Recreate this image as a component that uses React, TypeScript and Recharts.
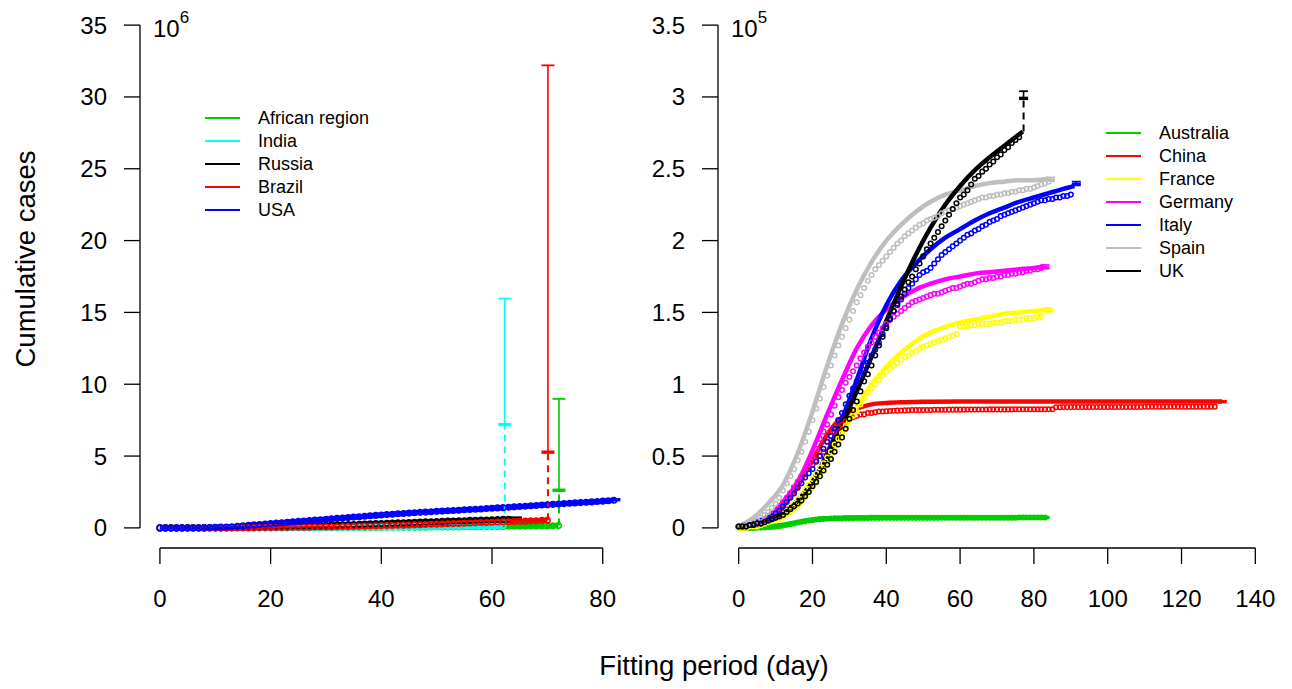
import React from 'react'
import { LineChart, Line, XAxis, YAxis, ReferenceLine, Legend } from 'recharts'

// ---- left panel: cumulative cases (x10^6), one value per day from day 0 ----
const africaObserved = [
  0, 0, 0, 0, 0, 0, 0, 0, 0, 0,
  0, 0, 0, 0, 0, 0, 0, 0, 0, 0.01,
  0.01, 0.01, 0.01, 0.01, 0.01, 0.01, 0.01, 0.01, 0.01, 0.02,
  0.02, 0.02, 0.02, 0.02, 0.02, 0.02, 0.03, 0.03, 0.03, 0.03,
  0.03, 0.04, 0.04, 0.04, 0.04, 0.05, 0.05, 0.05, 0.05, 0.06,
  0.06, 0.06, 0.07, 0.07, 0.07, 0.08, 0.08, 0.08, 0.09, 0.09,
  0.09, 0.1, 0.1, 0.11, 0.11, 0.12, 0.12, 0.13, 0.13, 0.14,
  0.14, 0.15, 0.16,
]
const indiaObserved = [
  0, 0, 0, 0, 0, 0, 0, 0, 0, 0,
  0, 0, 0, 0, 0, 0, 0, 0.01, 0.01, 0.01,
  0.01, 0.01, 0.01, 0.01, 0.01, 0.01, 0.02, 0.02, 0.02, 0.02,
  0.02, 0.02, 0.03, 0.03, 0.03, 0.03, 0.04, 0.04, 0.04, 0.04,
  0.05, 0.05, 0.05, 0.06, 0.06, 0.06, 0.07, 0.07, 0.08, 0.08,
  0.08, 0.09, 0.09, 0.1, 0.1, 0.11, 0.11, 0.12, 0.13, 0.13,
  0.14, 0.15, 0.16,
]
const russiaObserved = [
  0, 0, 0, 0, 0, 0, 0, 0, 0, 0.01,
  0.01, 0.01, 0.02, 0.02, 0.03, 0.03, 0.04, 0.05, 0.05, 0.06,
  0.07, 0.08, 0.09, 0.1, 0.11, 0.12, 0.13, 0.14, 0.15, 0.16,
  0.18, 0.19, 0.2, 0.21, 0.23, 0.24, 0.25, 0.27, 0.28, 0.3,
  0.31, 0.32, 0.34, 0.35, 0.36, 0.38, 0.39, 0.4, 0.42, 0.43,
  0.44, 0.45, 0.47, 0.48, 0.49, 0.5, 0.52, 0.53, 0.54, 0.55,
  0.57, 0.58, 0.59, 0.6,
]
const brazilObserved = [
  0, 0, 0, 0, 0, 0, 0, 0, 0, 0,
  0, 0, 0, 0.01, 0.01, 0.01, 0.01, 0.02, 0.02, 0.02,
  0.02, 0.03, 0.03, 0.03, 0.04, 0.04, 0.05, 0.05, 0.06, 0.06,
  0.07, 0.07, 0.08, 0.09, 0.09, 0.1, 0.11, 0.12, 0.13, 0.14,
  0.15, 0.16, 0.17, 0.18, 0.19, 0.2, 0.21, 0.22, 0.24, 0.25,
  0.26, 0.27, 0.29, 0.3, 0.31, 0.33, 0.34, 0.35, 0.37, 0.38,
  0.39, 0.41, 0.42, 0.43, 0.45, 0.46, 0.47, 0.49, 0.5, 0.52,
  0.53,
]
const usaObserved = [
  0, 0, 0, 0, 0, 0.01, 0.01, 0.01, 0.02, 0.03,
  0.04, 0.05, 0.06, 0.08, 0.11, 0.14, 0.18, 0.21, 0.24, 0.27,
  0.3, 0.33, 0.36, 0.39, 0.42, 0.45, 0.48, 0.51, 0.54, 0.57,
  0.6, 0.63, 0.66, 0.69, 0.72, 0.75, 0.78, 0.81, 0.84, 0.87,
  0.9, 0.93, 0.95, 0.98, 1.0, 1.03, 1.05, 1.08, 1.1, 1.12,
  1.15, 1.17, 1.19, 1.21, 1.23, 1.26, 1.28, 1.3, 1.32, 1.35,
  1.37, 1.39, 1.41, 1.44, 1.46, 1.49, 1.51, 1.54, 1.56, 1.59,
  1.61, 1.64, 1.66, 1.69, 1.71, 1.74, 1.76, 1.79, 1.81, 1.84,
  1.86, 1.89, 1.92,
]

// predicted intervals: [day, last value, lower, upper]
const leftIntervals: Record<string, number[]> = {
  'African region': [72.1, 0.16, 2.62, 8.98],
  India: [62.3, 0.16, 7.19, 15.96],
  Russia: [64.2, 0.6, 0.67, 0.72],
  Brazil: [70.1, 0.53, 5.27, 32.2],
  USA: [82, 1.92, 1.96, 2.0],
}

// ---- right panel: cumulative cases (x10^5) ----
const australiaObserved = [
  0, 0, 0, 0, 0, 0.001, 0.002, 0.003, 0.004, 0.006,
  0.009, 0.012, 0.016, 0.021, 0.026, 0.031, 0.037, 0.042, 0.047, 0.051,
  0.055, 0.058, 0.061, 0.063, 0.064, 0.065, 0.066, 0.067, 0.067, 0.068,
  0.068, 0.068, 0.069, 0.069, 0.069, 0.069, 0.07, 0.07, 0.07, 0.07,
  0.07, 0.07, 0.07, 0.07, 0.07, 0.07, 0.07, 0.07, 0.07, 0.07,
  0.07, 0.07, 0.07, 0.07, 0.07, 0.071, 0.071, 0.071, 0.071, 0.071,
  0.071, 0.071, 0.071, 0.071, 0.071, 0.071, 0.071, 0.071, 0.071, 0.071,
  0.071, 0.071, 0.071, 0.071, 0.071, 0.071, 0.072, 0.072, 0.072, 0.072,
  0.072, 0.072, 0.072, 0.072,
]
const chinaObserved = [
  0.01, 0.01, 0.02, 0.02, 0.03, 0.04, 0.05, 0.06, 0.08, 0.1,
  0.12, 0.14, 0.17, 0.2, 0.24, 0.28, 0.31, 0.35, 0.38, 0.41,
  0.44, 0.47, 0.5, 0.53, 0.6, 0.64, 0.67, 0.7, 0.72, 0.74,
  0.76, 0.77, 0.78, 0.79, 0.79, 0.8, 0.8, 0.805, 0.81, 0.81,
  0.812, 0.814, 0.815, 0.816, 0.817, 0.818, 0.819, 0.82, 0.82, 0.82,
  0.821, 0.821, 0.821, 0.822, 0.822, 0.822, 0.822, 0.823, 0.823, 0.823,
  0.823, 0.823, 0.824, 0.824, 0.824, 0.824, 0.824, 0.824, 0.825, 0.825,
  0.825, 0.825, 0.825, 0.825, 0.825, 0.826, 0.826, 0.826, 0.826, 0.826,
  0.826, 0.826, 0.826, 0.826, 0.826, 0.826, 0.84, 0.84, 0.841, 0.841,
  0.841, 0.841, 0.841, 0.841, 0.841, 0.841, 0.842, 0.842, 0.842, 0.842,
  0.842, 0.842, 0.842, 0.842, 0.842, 0.842, 0.842, 0.842, 0.842, 0.842,
  0.843, 0.843, 0.843, 0.843, 0.843, 0.843, 0.843, 0.843, 0.843, 0.843,
  0.843, 0.843, 0.843, 0.843, 0.843, 0.843, 0.844, 0.844, 0.844, 0.844,
]
const franceObserved = [
  0, 0, 0, 0.01, 0.01, 0.01, 0.02, 0.03, 0.04, 0.05,
  0.07, 0.08, 0.1, 0.12, 0.15, 0.17, 0.2, 0.23, 0.27, 0.3,
  0.34, 0.38, 0.42, 0.45, 0.49, 0.53, 0.58, 0.62, 0.66, 0.71,
  0.75, 0.78, 0.81, 0.86, 0.9, 0.94, 0.97, 1.0, 1.03, 1.06,
  1.09, 1.11, 1.13, 1.15, 1.17, 1.19, 1.2, 1.22, 1.23, 1.25,
  1.26, 1.27, 1.28, 1.29, 1.3, 1.31, 1.32, 1.33, 1.34, 1.35,
  1.4, 1.4, 1.4, 1.41, 1.41, 1.42, 1.42, 1.42, 1.42, 1.43,
  1.43, 1.43, 1.44, 1.44, 1.44, 1.45, 1.45, 1.45, 1.46, 1.46,
  1.46, 1.47, 1.47,
]
const germanyObserved = [
  0.01, 0.01, 0.01, 0.02, 0.02, 0.03, 0.03, 0.05, 0.07, 0.09,
  0.12, 0.15, 0.18, 0.21, 0.24, 0.28, 0.32, 0.36, 0.4, 0.44,
  0.49, 0.55, 0.62, 0.67, 0.72, 0.79, 0.85, 0.91, 0.96, 1.01,
  1.05, 1.09, 1.13, 1.18, 1.22, 1.26, 1.29, 1.33, 1.36, 1.39,
  1.42, 1.45, 1.47, 1.49, 1.51, 1.53, 1.55, 1.57, 1.58, 1.59,
  1.6, 1.61, 1.62, 1.63, 1.63, 1.64, 1.65, 1.66, 1.67, 1.67,
  1.68, 1.69, 1.7, 1.7, 1.71, 1.72, 1.73, 1.73, 1.74, 1.74,
  1.75, 1.75, 1.76, 1.76, 1.77, 1.77, 1.78, 1.78, 1.79, 1.79,
  1.8, 1.8, 1.81,
]
const italyObserved = [
  0.01, 0.01, 0.02, 0.02, 0.03, 0.04, 0.05, 0.06, 0.07, 0.08,
  0.1, 0.12, 0.15, 0.18, 0.21, 0.24, 0.28, 0.31, 0.35, 0.38,
  0.41, 0.46, 0.5, 0.55, 0.6, 0.64, 0.69, 0.75, 0.8, 0.86,
  0.92, 0.97, 1.02, 1.06, 1.1, 1.15, 1.2, 1.24, 1.29, 1.35,
  1.4, 1.46, 1.51, 1.55, 1.59, 1.63, 1.67, 1.7, 1.73, 1.76,
  1.78, 1.79, 1.81, 1.84, 1.87, 1.9, 1.92, 1.94, 1.96, 1.98,
  2.0, 2.02, 2.04, 2.05, 2.07, 2.08, 2.1, 2.11, 2.13, 2.14,
  2.15, 2.17, 2.18, 2.19, 2.2, 2.21, 2.22, 2.23, 2.24, 2.25,
  2.26, 2.27, 2.28, 2.28, 2.29, 2.29, 2.3, 2.3, 2.31, 2.31,
  2.32,
]
const spainObserved = [
  0.01, 0.01, 0.02, 0.03, 0.04, 0.05, 0.07, 0.09, 0.11, 0.14,
  0.17, 0.21, 0.26, 0.31, 0.36, 0.41, 0.47, 0.53, 0.6, 0.67,
  0.75, 0.83, 0.9, 0.98, 1.06, 1.13, 1.2, 1.27, 1.33, 1.39,
  1.45, 1.51, 1.57, 1.62, 1.67, 1.72, 1.76, 1.8, 1.83, 1.86,
  1.89, 1.92, 1.95, 1.98, 2.0, 2.03, 2.05, 2.07, 2.09, 2.11,
  2.12, 2.14, 2.15, 2.16, 2.17, 2.19, 2.2, 2.21, 2.22, 2.23,
  2.24, 2.25, 2.26, 2.27, 2.28, 2.29, 2.3, 2.3, 2.31, 2.31,
  2.32, 2.32, 2.33, 2.33, 2.34, 2.34, 2.35, 2.35, 2.36, 2.36,
  2.37, 2.38, 2.39, 2.4, 2.41,
]
const ukObserved = [
  0.01, 0.01, 0.01, 0.02, 0.02, 0.03, 0.03, 0.04, 0.05, 0.06,
  0.07, 0.08, 0.09, 0.11, 0.13, 0.15, 0.17, 0.19, 0.22, 0.25,
  0.29, 0.32, 0.36, 0.4, 0.44, 0.48, 0.53, 0.58, 0.63, 0.69,
  0.76, 0.82, 0.88, 0.95, 1.02, 1.07, 1.13, 1.2, 1.27, 1.33,
  1.39, 1.45, 1.51, 1.56, 1.61, 1.66, 1.71, 1.75, 1.8, 1.84,
  1.89, 1.94, 1.98, 2.02, 2.06, 2.1, 2.14, 2.18, 2.22, 2.26,
  2.3, 2.32, 2.35, 2.39, 2.43, 2.45, 2.48, 2.5, 2.53, 2.55,
  2.58, 2.6, 2.63, 2.65, 2.68, 2.7, 2.72,
]

// fitted curves: [day, value]
const australiaFitted = [
  [0, 0], [4, 0.002], [8, 0.008], [12, 0.02], [16, 0.04], [20, 0.055], [24, 0.064],
  [28, 0.068], [32, 0.07], [40, 0.071], [50, 0.072], [60, 0.072], [70, 0.072], [83, 0.072],
]
const chinaFitted = [
  [0, 0.01], [4, 0.03], [8, 0.07], [12, 0.15], [16, 0.29], [20, 0.47], [24, 0.65],
  [28, 0.77], [32, 0.83], [36, 0.86], [40, 0.87], [44, 0.875], [48, 0.877], [52, 0.878],
  [60, 0.879], [70, 0.879], [80, 0.879], [90, 0.879], [100, 0.879], [110, 0.879],
  [120, 0.879], [131, 0.879],
]
const franceFitted = [
  [0, 0], [4, 0.01], [8, 0.03], [12, 0.07], [16, 0.15], [20, 0.28], [24, 0.46],
  [28, 0.66], [32, 0.84], [36, 1.0], [40, 1.12], [44, 1.22], [48, 1.3], [52, 1.36],
  [56, 1.4], [60, 1.43], [64, 1.45], [68, 1.47], [72, 1.49], [76, 1.5], [80, 1.51], [84, 1.52],
]
const germanyFitted = [
  [0, 0.01], [4, 0.03], [8, 0.07], [12, 0.18], [16, 0.32], [20, 0.54], [24, 0.79],
  [28, 1.03], [32, 1.25], [36, 1.41], [40, 1.52], [44, 1.6], [48, 1.66], [52, 1.7],
  [56, 1.73], [60, 1.75], [64, 1.77], [68, 1.78], [72, 1.79], [76, 1.8], [80, 1.81], [83, 1.82],
]
const italyFitted = [
  [0, 0.01], [4, 0.03], [8, 0.05], [12, 0.1], [16, 0.19], [20, 0.32], [24, 0.52],
  [28, 0.76], [32, 1.03], [36, 1.32], [40, 1.55], [44, 1.72], [48, 1.84], [52, 1.94],
  [56, 2.02], [60, 2.08], [64, 2.14], [68, 2.19], [72, 2.23], [76, 2.27], [80, 2.3],
  [84, 2.33], [88, 2.36], [91, 2.38],
]
const spainFitted = [
  [0, 0.01], [4, 0.07], [8, 0.17], [12, 0.3], [16, 0.52], [20, 0.81], [24, 1.13],
  [28, 1.42], [32, 1.66], [36, 1.85], [40, 2.0], [44, 2.11], [48, 2.2], [52, 2.27],
  [56, 2.32], [60, 2.35], [64, 2.38], [68, 2.4], [72, 2.41], [76, 2.42], [80, 2.42], [84, 2.43],
]
const ukFitted = [
  [0, 0.01], [4, 0.03], [8, 0.06], [12, 0.11], [16, 0.19], [20, 0.32], [24, 0.5],
  [28, 0.72], [32, 0.95], [36, 1.19], [40, 1.44], [44, 1.68], [48, 1.9], [52, 2.09],
  [56, 2.25], [60, 2.38], [64, 2.49], [68, 2.58], [72, 2.66], [77, 2.76],
]

const rightIntervals: Record<string, number[]> = {
  Australia: [83, 0.072, 0.072, 0.075],
  China: [131, 0.879, 0.879, 0.884],
  France: [84, 1.52, 1.51, 1.53],
  Germany: [83, 1.82, 1.81, 1.83],
  Italy: [91.5, 2.38, 2.39, 2.41],
  Spain: [84.5, 2.43, 2.42, 2.44],
  UK: [77.2, 2.76, 2.99, 3.04],
}

const leftTicksX = [0, 20, 40, 60, 80]
const leftTicksY = [0, 5, 10, 15, 20, 25, 30, 35]
const rightTicksX = [0, 20, 40, 60, 80, 100, 120, 140]
const rightTicksY = [0, 0.5, 1, 1.5, 2, 2.5, 3, 3.5]

const colors: Record<string, string> = {
  'African region': '#00CD00',
  India: '#00FFFF',
  Russia: '#000000',
  Brazil: '#FF0000',
  USA: '#0000FF',
  Australia: '#00CD00',
  China: '#FF0000',
  France: '#FFFF00',
  Germany: '#FF00FF',
  Italy: '#0000FF',
  Spain: '#BEBEBE',
  UK: '#000000',
}

const leftSeries = [
  { name: 'African region', values: africaObserved },
  { name: 'India', values: indiaObserved },
  { name: 'Russia', values: russiaObserved },
  { name: 'Brazil', values: brazilObserved },
  { name: 'USA', values: usaObserved },
]
const rightSeries = [
  { name: 'Australia', values: australiaObserved, fitted: australiaFitted },
  { name: 'China', values: chinaObserved, fitted: chinaFitted },
  { name: 'France', values: franceObserved, fitted: franceFitted },
  { name: 'Germany', values: germanyObserved, fitted: germanyFitted },
  { name: 'Italy', values: italyObserved, fitted: italyFitted },
  { name: 'Spain', values: spainObserved, fitted: spainFitted },
  { name: 'UK', values: ukObserved, fitted: ukFitted },
]

const daily = (vals: number[]) => vals.map((v, i) => ({ day: i, v }))
const pairs = (p: number[][]) => p.map(([day, v]) => ({ day, v }))

const FONT = '"Liberation Sans", Arial, Helvetica, sans-serif'
const TICK = { fill: '#000', fontSize: 24 }
const TICK_LINE = { stroke: '#000', strokeWidth: 1.3 }

function PanelLegend({ names }: { names: string[] }) {
  return (
    <div style={{ fontSize: 18, fontFamily: FONT, color: '#000' }}>
      {names.map((n) => (
        <div key={n} style={{ display: 'flex', alignItems: 'center', height: 23 }}>
          <svg width={35} height={4} style={{ display: 'block' }}>
            <line x1={0} y1={2} x2={35} y2={2} stroke={colors[n]} strokeWidth={2} />
          </svg>
          <span style={{ marginLeft: 18 }}>{n}</span>
        </div>
      ))}
    </div>
  )
}

function intervalLines(key: string, color: string, iv: number[], capHalf: number) {
  const [day, from, low, high] = iv
  const out = []
  if (low > from) {
    out.push(
      <ReferenceLine key={key + 'd'} segment={[{ x: day, y: from }, { x: day, y: low }]}
        stroke={color} strokeWidth={2} strokeDasharray="7 5" ifOverflow="visible" />
    )
  }
  out.push(
    <ReferenceLine key={key + 'v'} segment={[{ x: day, y: low }, { x: day, y: high }]}
      stroke={color} strokeWidth={1.6} ifOverflow="visible" />,
    <ReferenceLine key={key + 'h'} segment={[{ x: day - capHalf, y: high }, { x: day + capHalf, y: high }]}
      stroke={color} strokeWidth={1.8} ifOverflow="visible" />,
    <ReferenceLine key={key + 'l'} segment={[{ x: day - capHalf, y: low }, { x: day + capHalf, y: low }]}
      stroke={color} strokeWidth={3.4} ifOverflow="visible" />
  )
  return out
}

const LX: [number, number] = [-3.6, 93.6]
const LY: [number, number] = [-1.4, 36.4]
const RX: [number, number] = [-5.6, 145.6]
const RY: [number, number] = [-0.14, 3.64]

function LeftPanel() {
  const capHalf = 6.5 / (538 / (LX[1] - LX[0]))
  return (
    <LineChart width={700} height={689} margin={{ top: 5, right: 22, bottom: 0, left: 0 }}>
      <XAxis type="number" dataKey="day" domain={LX} ticks={leftTicksX} allowDataOverflow
        axisLine={false} tickSize={16} tickMargin={26} height={141} tick={TICK} tickLine={TICK_LINE} interval={0} />
      <YAxis type="number" domain={LY} ticks={leftTicksY} allowDataOverflow
        axisLine={false} tickSize={16} tickMargin={17} width={140} tick={TICK} tickLine={TICK_LINE} interval={0} />
      <ReferenceLine segment={[{ x: 0, y: LY[0] }, { x: 80, y: LY[0] }]} stroke="#000" strokeWidth={1.3} ifOverflow="visible" />
      <ReferenceLine segment={[{ x: LX[0], y: 0 }, { x: LX[0], y: 35 }]} stroke="#000" strokeWidth={1.3} ifOverflow="visible" />
      {leftSeries.map((s) => (
        <Line key={s.name} name={s.name} data={daily(s.values)} dataKey="v" type="linear"
          stroke={colors[s.name]} strokeWidth={5} isAnimationActive={false} activeDot={false}
          dot={{ r: 2.8, fill: 'none', stroke: colors[s.name], strokeWidth: 1.5 }} />
      ))}
      {leftSeries.flatMap((s) => intervalLines(s.name, colors[s.name], leftIntervals[s.name], capHalf))}
      <Legend layout="horizontal" verticalAlign="middle" align="center"
        content={() => <PanelLegend names={leftSeries.map((s) => s.name)} />}
        wrapperStyle={{ left: 205, top: 106.5, width: 'auto', height: 'auto' }} />
    </LineChart>
  )
}

function RightPanel() {
  const capHalf = 4.5 / (558 / (RX[1] - RX[0]))
  return (
    <LineChart width={652} height={689} margin={{ top: 5, right: 16, bottom: 0, left: 0 }}>
      <XAxis type="number" dataKey="day" domain={RX} ticks={rightTicksX} allowDataOverflow
        axisLine={false} tickSize={16} tickMargin={26} height={141} tick={TICK} tickLine={TICK_LINE} interval={0} />
      <YAxis type="number" domain={RY} ticks={rightTicksY} allowDataOverflow
        axisLine={false} tickSize={16} tickMargin={17} width={78} tick={TICK} tickLine={TICK_LINE} interval={0} />
      <ReferenceLine segment={[{ x: 0, y: RY[0] }, { x: 140, y: RY[0] }]} stroke="#000" strokeWidth={1.3} ifOverflow="visible" />
      <ReferenceLine segment={[{ x: RX[0], y: 0 }, { x: RX[0], y: 3.5 }]} stroke="#000" strokeWidth={1.3} ifOverflow="visible" />
      {rightSeries.flatMap((s) => [
        <Line key={s.name + 'obs'} data={daily(s.values)} dataKey="v" legendType="none"
          stroke="none" isAnimationActive={false} activeDot={false}
          dot={{ r: 2.3, fill: 'none', stroke: colors[s.name], strokeWidth: 1.5 }} />,
        <Line key={s.name + 'fit'} name={s.name} data={pairs(s.fitted)} dataKey="v" type="monotone"
          stroke={colors[s.name]} strokeWidth={4.5} dot={false} activeDot={false} isAnimationActive={false} />,
      ])}
      {rightSeries.flatMap((s) => intervalLines(s.name, colors[s.name], rightIntervals[s.name], capHalf))}
      <Legend layout="horizontal" verticalAlign="middle" align="center"
        content={() => <PanelLegend names={rightSeries.map((s) => s.name)} />}
        wrapperStyle={{ left: 466, top: 121.5, width: 'auto', height: 'auto' }} />
    </LineChart>
  )
}

export default function App() {
  return (
    <div style={{ position: 'absolute', left: 0, top: 0, width: 1292, height: 689, background: '#fff', fontFamily: FONT, overflow: 'hidden' }}>
      <div style={{ position: 'absolute', left: 0, top: 0 }}>
        <LeftPanel />
      </div>
      <div style={{ position: 'absolute', left: 640, top: 0 }}>
        <RightPanel />
      </div>
      <svg width={1292} height={689} style={{ position: 'absolute', left: 0, top: 0, pointerEvents: 'none' }}>
        <text x={153} y={37} fontSize={24} fill="#000" fontFamily={FONT}>
          10<tspan fontSize={17} dy={-14}>6</tspan>
        </text>
        <text x={731} y={37} fontSize={24} fill="#000" fontFamily={FONT}>
          10<tspan fontSize={17} dy={-14}>5</tspan>
        </text>
        <text x={35} y={259} fontSize={27.5} fill="#000" fontFamily={FONT} textAnchor="middle"
          transform="rotate(-90 35 259)">Cumulative cases</text>
        <text x={714} y={675} fontSize={27.5} fill="#000" fontFamily={FONT} textAnchor="middle">Fitting period (day)</text>
      </svg>
    </div>
  )
}
